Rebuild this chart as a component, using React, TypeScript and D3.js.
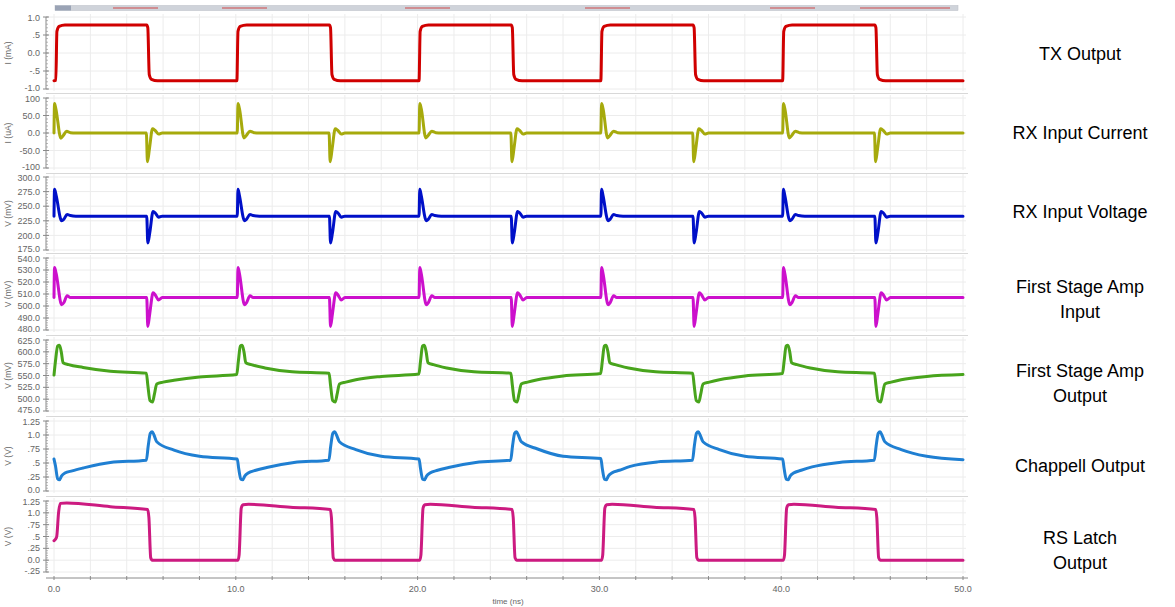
import React from 'react'
import * as d3 from 'd3'

// time axis (ns)
const timeTicks = [0, 10, 20, 30, 40, 50]
const timeTickLabels = ['0.0', '10.0', '20.0', '30.0', '40.0', '50.0']

// panel titles (right side)
const panelTitles = [
  ['TX Output'],
  ['RX Input Current'],
  ['RX Input Voltage'],
  ['First Stage Amp', 'Input'],
  ['First Stage Amp', 'Output'],
  ['Chappell Output'],
  ['RS Latch', 'Output'],
]
const yUnits = ['I (mA)', 'I (uA)', 'V (mV)', 'V (mV)', 'V (mV)', 'V (V)', 'V (V)']

const txTicks = [-1, -0.5, 0, 0.5, 1]
const txTickLabels = ['-1.0', '-.5', '0.0', '.5', '1.0']
const rxiTicks = [-100, -50, 0, 50, 100]
const rxiTickLabels = ['-100', '-50.0', '0.0', '50.0', '100']
const rxvTicks = [175, 200, 225, 250, 275, 300]
const rxvTickLabels = ['175.0', '200.0', '225.0', '250.0', '275.0', '300.0']
const fsiTicks = [480, 490, 500, 510, 520, 530, 540]
const fsiTickLabels = ['480.0', '490.0', '500.0', '510.0', '520.0', '530.0', '540.0']
const fsoTicks = [475, 500, 525, 550, 575, 600, 625]
const fsoTickLabels = ['475.0', '500.0', '525.0', '550.0', '575.0', '600.0', '625.0']
const chTicks = [0, 0.25, 0.5, 0.75, 1.0, 1.25]
const chTickLabels = ['0.0', '.25', '.5', '.75', '1.0', '1.25']
const rsTicks = [-0.25, 0, 0.25, 0.5, 0.75, 1.0, 1.25]
const rsTickLabels = ['-.25', '0.0', '.25', '.5', '.75', '1.0', '1.25']

// waveforms [time ns, value]
const txOutput: [number, number][] = [
  [0, -0.77], [0.1, -0.76], [0.16, 0.6], [0.28, 0.74], [0.6, 0.78], [5.1, 0.78], [5.16, 0.7], [5.24, -0.6], [5.36, -0.73], [5.7, -0.77],
  [10.06, -0.77], [10.12, 0.6], [10.24, 0.74], [10.6, 0.78], [15.15, 0.78], [15.21, 0.7], [15.29, -0.6], [15.41, -0.73], [15.75, -0.77],
  [20.08, -0.77], [20.14, 0.6], [20.26, 0.74], [20.6, 0.78], [25.15, 0.78], [25.21, 0.7], [25.29, -0.6], [25.41, -0.73], [25.75, -0.77],
  [30.08, -0.77], [30.14, 0.6], [30.26, 0.74], [30.6, 0.78], [35.15, 0.78], [35.21, 0.7], [35.29, -0.6], [35.41, -0.73], [35.75, -0.77],
  [40.08, -0.77], [40.14, 0.6], [40.26, 0.74], [40.6, 0.78], [45.15, 0.78], [45.21, 0.7], [45.29, -0.6], [45.41, -0.73], [45.75, -0.77],
  [50, -0.77],
]

const rxCurrent: [number, number][] = [
  [0, 0], [0.03, 84], [0.1, 70], [0.38, -15], [0.5, -8], [0.7, 5], [0.9, 1], [1.2, 0],
  [5.08, 0], [5.14, -82], [5.25, -45], [5.42, 12], [5.55, 8], [5.75, -3], [5.95, 0],
  [10.08, 0], [10.12, 84], [10.2, 70], [10.45, -14], [10.58, -7], [10.78, 5], [11, 1], [11.3, 0],
  [15.13, 0], [15.19, -82], [15.3, -45], [15.47, 12], [15.6, 8], [15.8, -3], [16, 0],
  [20.08, 0], [20.12, 84], [20.2, 70], [20.45, -14], [20.58, -7], [20.78, 5], [21, 1], [21.3, 0],
  [25.13, 0], [25.19, -82], [25.3, -45], [25.47, 12], [25.6, 8], [25.8, -3], [26, 0],
  [30.08, 0], [30.12, 84], [30.2, 70], [30.45, -14], [30.58, -7], [30.78, 5], [31, 1], [31.3, 0],
  [35.13, 0], [35.19, -82], [35.3, -45], [35.47, 12], [35.6, 8], [35.8, -3], [36, 0],
  [40.08, 0], [40.12, 84], [40.2, 70], [40.45, -14], [40.58, -7], [40.78, 5], [41, 1], [41.3, 0],
  [45.13, 0], [45.19, -82], [45.3, -45], [45.47, 12], [45.6, 8], [45.8, -3], [46, 0],
  [50, 0],
]

const rxVoltage: [number, number][] = [
  [0, 233], [0.03, 279], [0.12, 268], [0.42, 225], [0.55, 228], [0.72, 236], [0.9, 234], [1.2, 233],
  [5.1, 233], [5.16, 187], [5.27, 205], [5.45, 241], [5.58, 238], [5.75, 231], [5.95, 233],
  [10.08, 233], [10.12, 279], [10.2, 268], [10.48, 225], [10.6, 228], [10.78, 236], [10.95, 234], [11.3, 233],
  [15.15, 233], [15.21, 187], [15.32, 205], [15.5, 241], [15.63, 238], [15.8, 231], [16, 233],
  [20.08, 233], [20.12, 279], [20.2, 268], [20.48, 225], [20.6, 228], [20.78, 236], [20.95, 234], [21.3, 233],
  [25.15, 233], [25.21, 187], [25.32, 205], [25.5, 241], [25.63, 238], [25.8, 231], [26, 233],
  [30.08, 233], [30.12, 279], [30.2, 268], [30.48, 225], [30.6, 228], [30.78, 236], [30.95, 234], [31.3, 233],
  [35.15, 233], [35.21, 187], [35.32, 205], [35.5, 241], [35.63, 238], [35.8, 231], [36, 233],
  [40.08, 233], [40.12, 279], [40.2, 268], [40.48, 225], [40.6, 228], [40.78, 236], [40.95, 234], [41.3, 233],
  [45.15, 233], [45.21, 187], [45.32, 205], [45.5, 241], [45.63, 238], [45.8, 231], [46, 233],
  [50, 233],
]

const fsInput: [number, number][] = [
  [0, 507], [0.03, 532], [0.12, 527], [0.42, 501], [0.55, 503], [0.72, 508.5], [0.9, 507],
  [5.1, 507], [5.16, 483], [5.27, 494], [5.45, 511], [5.58, 509], [5.75, 505], [5.95, 507],
  [10.08, 507], [10.12, 532], [10.2, 527], [10.48, 501], [10.6, 503], [10.78, 508.5], [10.95, 507],
  [15.15, 507], [15.21, 483], [15.32, 494], [15.5, 511], [15.63, 509], [15.8, 505], [16, 507],
  [20.08, 507], [20.12, 532], [20.2, 527], [20.48, 501], [20.6, 503], [20.78, 508.5], [20.95, 507],
  [25.15, 507], [25.21, 483], [25.32, 494], [25.5, 511], [25.63, 509], [25.8, 505], [26, 507],
  [30.08, 507], [30.12, 532], [30.2, 527], [30.48, 501], [30.6, 503], [30.78, 508.5], [30.95, 507],
  [35.15, 507], [35.21, 483], [35.32, 494], [35.5, 511], [35.63, 509], [35.8, 505], [36, 507],
  [40.08, 507], [40.12, 532], [40.2, 527], [40.48, 501], [40.6, 503], [40.78, 508.5], [40.95, 507],
  [45.15, 507], [45.21, 483], [45.32, 494], [45.5, 511], [45.63, 509], [45.8, 505], [46, 507],
  [50, 507],
]

const fsOutput: [number, number][] = [
  [0, 551], [0.08, 580], [0.2, 612], [0.3, 614], [0.4, 600], [0.5, 577], [0.8, 573], [1.6, 567], [3.1, 559], [5.08, 555],
  [5.16, 530], [5.28, 497], [5.42, 494], [5.52, 510], [5.65, 532], [6.0, 536], [6.6, 540], [8.0, 547], [10.05, 552],
  [10.14, 580], [10.25, 612], [10.35, 614], [10.45, 600], [10.55, 577], [10.85, 573], [11.6, 566], [13.1, 558], [15.13, 555],
  [15.21, 530], [15.33, 497], [15.47, 494], [15.57, 510], [15.7, 532], [16.05, 536], [16.6, 541], [18, 548], [20.07, 553],
  [20.16, 580], [20.27, 612], [20.37, 614], [20.47, 600], [20.57, 577], [20.87, 573], [21.6, 566], [23.1, 558], [25.13, 555],
  [25.21, 530], [25.33, 497], [25.47, 494], [25.57, 510], [25.7, 532], [26.05, 536], [26.6, 541], [28, 549], [30.07, 554],
  [30.16, 580], [30.27, 612], [30.37, 614], [30.47, 600], [30.57, 577], [30.87, 573], [31.6, 566], [33.1, 558], [35.13, 555],
  [35.21, 530], [35.33, 497], [35.47, 494], [35.57, 510], [35.7, 532], [36.05, 536], [36.6, 541], [38, 549], [40.07, 554],
  [40.16, 580], [40.27, 612], [40.37, 614], [40.47, 600], [40.57, 577], [40.87, 573], [41.6, 566], [43.1, 558], [45.13, 555],
  [45.21, 530], [45.33, 497], [45.47, 494], [45.57, 510], [45.7, 532], [46.05, 536], [46.6, 541], [48, 548], [50, 552],
]

const chappell: [number, number][] = [
  [0, 0.57], [0.08, 0.45], [0.2, 0.22], [0.3, 0.2], [0.42, 0.27], [0.6, 0.32], [1.0, 0.36], [1.6, 0.41], [3.1, 0.51], [5.08, 0.55],
  [5.18, 0.8], [5.3, 1.03], [5.4, 1.06], [5.5, 1.0], [5.65, 0.88], [6.6, 0.73], [8, 0.62], [10.08, 0.57],
  [10.16, 0.4], [10.28, 0.21], [10.38, 0.2], [10.5, 0.27], [10.68, 0.32], [11.1, 0.37], [11.7, 0.42], [13.2, 0.51], [15.12, 0.55],
  [15.22, 0.8], [15.34, 1.03], [15.44, 1.06], [15.54, 1.0], [15.7, 0.88], [16.6, 0.74], [18, 0.62], [20.08, 0.57],
  [20.16, 0.4], [20.28, 0.21], [20.38, 0.2], [20.5, 0.27], [20.68, 0.32], [21.1, 0.37], [21.7, 0.42], [23.2, 0.51], [25.12, 0.55],
  [25.22, 0.8], [25.34, 1.03], [25.44, 1.06], [25.54, 1.0], [25.7, 0.88], [26.6, 0.75], [28, 0.62], [30.08, 0.58],
  [30.16, 0.4], [30.28, 0.21], [30.38, 0.2], [30.5, 0.27], [30.68, 0.32], [31.1, 0.37], [31.7, 0.44], [33.2, 0.52], [35.12, 0.55],
  [35.22, 0.8], [35.34, 1.03], [35.44, 1.06], [35.54, 1.0], [35.7, 0.88], [36.6, 0.74], [38, 0.62], [40.08, 0.57],
  [40.16, 0.4], [40.28, 0.21], [40.38, 0.2], [40.5, 0.27], [40.68, 0.32], [41.1, 0.37], [41.7, 0.43], [43.2, 0.51], [45.12, 0.55],
  [45.22, 0.8], [45.34, 1.03], [45.44, 1.06], [45.54, 1.0], [45.7, 0.88], [46.6, 0.74], [48, 0.62], [50, 0.56],
]

const rsLatch: [number, number][] = [
  [0, 0.41], [0.08, 0.44], [0.15, 0.5], [0.25, 1.0], [0.35, 1.2], [0.7, 1.21], [3.1, 1.13], [5.15, 1.07],
  [5.22, 0.9], [5.32, 0.05], [5.4, 0.0], [10.12, 0.0], [10.18, 0.1], [10.3, 1.1], [10.4, 1.17], [10.7, 1.18], [13, 1.12], [15.2, 1.07],
  [15.26, 0.9], [15.36, 0.05], [15.45, 0.0], [20.12, 0.0], [20.18, 0.1], [20.3, 1.1], [20.4, 1.17], [20.7, 1.18], [23, 1.12], [25.2, 1.07],
  [25.26, 0.9], [25.36, 0.05], [25.45, 0.0], [30.12, 0.0], [30.18, 0.1], [30.3, 1.1], [30.4, 1.17], [30.7, 1.18], [33, 1.12], [35.2, 1.07],
  [35.26, 0.9], [35.36, 0.05], [35.45, 0.0], [40.12, 0.0], [40.18, 0.1], [40.3, 1.1], [40.4, 1.17], [40.7, 1.18], [43, 1.12], [45.2, 1.07],
  [45.26, 0.9], [45.36, 0.05], [45.45, 0.0], [50, 0.0],
]

const W = 1175
const H = 607
const X0 = 54
const X1 = 963
const AXIS_X = 46
const FONT = 'Liberation Sans, Arial, sans-serif'

const panels = [
  { top: 17, bottom: 89, data: txOutput, ticks: txTicks, labels: txTickLabels, color: '#d00000' },
  { top: 98, bottom: 168, data: rxCurrent, ticks: rxiTicks, labels: rxiTickLabels, color: '#a6aa0c' },
  { top: 177, bottom: 250, data: rxVoltage, ticks: rxvTicks, labels: rxvTickLabels, color: '#0010c8' },
  { top: 258, bottom: 330, data: fsInput, ticks: fsiTicks, labels: fsiTickLabels, color: '#cc10cc' },
  { top: 340, bottom: 411, data: fsOutput, ticks: fsoTicks, labels: fsoTickLabels, color: '#48a41c' },
  { top: 421, bottom: 491, data: chappell, ticks: chTicks, labels: chTickLabels, color: '#1f7fd2' },
  { top: 501, bottom: 572, data: rsLatch, ticks: rsTicks, labels: rsTickLabels, color: '#cc1a80' },
]
const separators = [93.5, 173.5, 253.5, 335.5, 416.5, 496.5]
const titleY = [54, 133, 212, 287, 371, 466, 538]

export default function App() {
  const x = d3.scaleLinear().domain([0, 50]).range([X0, X1])
  const gridTimes = d3.range(0, 50.01, 2)

  return (
    <svg width={W} height={H} style={{ position: 'absolute', left: 0, top: 0, background: '#fff' }}>
      {/* top scroll bar */}
      <rect x={55} y={5.5} width={903} height={5} fill="#cfd3da" stroke="#b8bcc4" strokeWidth={0.5} />
      <rect x={55} y={5.5} width={16} height={5} fill="#9aa3b5" />
      {[113, 222, 405, 585, 770, 860, 905].map((sx, i) => (
        <line key={i} x1={sx} x2={sx + 45} y1={8} y2={8} stroke="#d04848" strokeWidth={1.2} />
      ))}

      {separators.map((sy, i) => (
        <line key={i} x1={AXIS_X} x2={968} y1={sy} y2={sy} stroke="#d8d8d8" strokeWidth={1} />
      ))}

      {panels.map((p, i) => {
        const dom = d3.extent(p.ticks) as [number, number]
        const y = d3.scaleLinear().domain(dom).range([p.bottom, p.top])
        const line = d3.line<[number, number]>()
          .x(d => x(d[0]))
          .y(d => y(d[1]))
          .curve(d3.curveMonotoneX)
        const step = p.ticks[1] - p.ticks[0]
        const minors = d3.range(dom[0], dom[1] + step / 20, step / 5)
        const last = p.ticks.length - 1
        return (
          <g key={i}>
            {gridTimes.map(t => (
              <line key={'v' + t} x1={x(t)} x2={x(t)} y1={p.top - 3} y2={p.bottom + 2} stroke="#ececec" strokeWidth={1} />
            ))}
            {p.ticks.map(v => (
              <line key={'h' + v} x1={AXIS_X} x2={966} y1={y(v)} y2={y(v)} stroke="#ececec" strokeWidth={1} />
            ))}
            <line x1={AXIS_X} x2={AXIS_X} y1={p.top} y2={p.bottom} stroke="#8a8a8a" strokeWidth={1} />
            {minors.map((v, j) => (
              <line key={'m' + j} x1={AXIS_X} x2={AXIS_X + 2} y1={y(v)} y2={y(v)} stroke="#9a9a9a" strokeWidth={0.7} />
            ))}
            {p.ticks.map((v, j) => (
              <g key={'t' + v}>
                <line x1={AXIS_X - 3} x2={AXIS_X + 3} y1={y(v)} y2={y(v)} stroke="#8a8a8a" strokeWidth={1} />
                <text
                  x={AXIS_X - 6}
                  y={y(v) + (j === 0 ? -1 : j === last ? 1 : 0)}
                  dy="0.35em"
                  textAnchor="end"
                  fontFamily={FONT}
                  fontSize={9}
                  fill="#666"
                >
                  {p.labels[j]}
                </text>
              </g>
            ))}
            <text
              transform={`translate(11,${(p.top + p.bottom) / 2}) rotate(-90)`}
              textAnchor="middle"
              fontFamily={FONT}
              fontSize={8.5}
              fill="#666"
            >
              {yUnits[i]}
            </text>
            <path d={line(p.data) || ''} fill="none" stroke={p.color} strokeWidth={3} strokeLinejoin="round" strokeLinecap="round" />
            {panelTitles[i].map((s, k) => (
              <text
                key={k}
                x={1080}
                y={titleY[i] + k * 24.5}
                dy="0.35em"
                textAnchor="middle"
                fontFamily={FONT}
                fontSize={18}
                fill="#000"
              >
                {s}
              </text>
            ))}
          </g>
        )
      })}

      {/* time axis */}
      <line x1={AXIS_X} x2={968} y1={578} y2={578} stroke="#8a8a8a" strokeWidth={1} />
      {gridTimes.map(t => (
        <line key={t} x1={x(t)} x2={x(t)} y1={576} y2={580} stroke="#8a8a8a" strokeWidth={1} />
      ))}
      {timeTicks.map((t, i) => (
        <text key={t} x={x(t)} y={592} textAnchor="middle" fontFamily={FONT} fontSize={9} fill="#666">
          {timeTickLabels[i]}
        </text>
      ))}
      <text x={508} y={604} textAnchor="middle" fontFamily={FONT} fontSize={8} fill="#666">
        time (ns)
      </text>
    </svg>
  )
}
